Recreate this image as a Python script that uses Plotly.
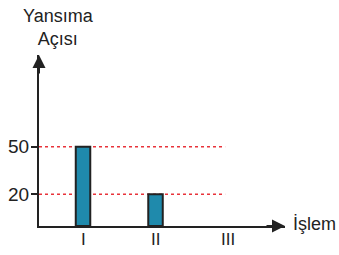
import plotly.graph_objects as go

categories = ["I", "II", "III"]
values = [50, 20, 0]
ytick_vals = [20, 50]
ytick_text = ["20", "50"]
y_title = "Yansıma<br>Açısı"
x_title = "İşlem"

FONT = "Liberation Sans"
TXT = "#222222"

fig = go.Figure()
fig.add_trace(go.Bar(
    x=list(range(len(categories))), y=values, width=0.2,
    marker=dict(color="#1f8aac",
                line=dict(color=TXT, width=[2 if v else 0 for v in values])),
))

XR = [-0.607, 2.786]
YR = [0, 108]

for v in ytick_vals:
    fig.add_shape(type="line", xref="x", yref="y", x0=XR[0], x1=1.96, y0=v, y1=v,
                  line=dict(color="#e8333a", width=1.5, dash="dot"), layer="below")

# tick labels as text (font control)
for v, t in zip(ytick_vals, ytick_text):
    fig.add_annotation(xref="paper", yref="y", x=0, y=v, xanchor="right", yanchor="middle",
                       xshift=-8, yshift=0, text=t, showarrow=False,
                       font=dict(size=19, color=TXT, family=FONT))
for i, c in enumerate(categories):
    fig.add_annotation(xref="x", yref="paper", x=i, y=0, xanchor="center", yanchor="top",
                       yshift=-2, text=c, showarrow=False,
                       font=dict(size=17, color=TXT, family=FONT))

# arrows
fig.add_annotation(xref="paper", yref="paper", x=0, y=1, ax=0, ay=20,
                   axref="pixel", ayref="pixel", showarrow=True, arrowhead=2,
                   arrowsize=1.3, arrowwidth=2, arrowcolor=TXT, text="", standoff=0)
fig.add_annotation(xref="paper", yref="paper", x=1, y=0, ax=-20, ay=0,
                   axref="pixel", ayref="pixel", showarrow=True, arrowhead=2,
                   arrowsize=1.3, arrowwidth=2, arrowcolor=TXT, text="", standoff=0)

fig.add_annotation(xref="paper", yref="paper", x=0.08, y=1, xanchor="center", yanchor="bottom",
                   yshift=4, text=y_title, showarrow=False, align="center",
                   font=dict(size=18, color=TXT, family=FONT))
fig.add_annotation(xref="paper", yref="paper", x=1, y=0, xanchor="left", yanchor="middle",
                   xshift=6, yshift=2, text=x_title, showarrow=False,
                   font=dict(size=18, color=TXT, family=FONT))

fig.update_layout(
    width=339, height=255, margin=dict(l=39, r=54, t=55, b=29),
    plot_bgcolor="white", paper_bgcolor="white", showlegend=False,
    font=dict(family=FONT, color=TXT),
    xaxis=dict(range=XR, tickvals=list(range(len(categories))), showticklabels=False,
               showline=True, linecolor=TXT, linewidth=2, showgrid=False,
               zeroline=False, ticks="", automargin=False),
    yaxis=dict(range=YR, tickvals=ytick_vals, showticklabels=False,
               showline=True, linecolor=TXT, linewidth=2, showgrid=False,
               zeroline=False, ticks="outside", ticklen=6, tickwidth=1.5, automargin=False,
               tickcolor=TXT),
)

fig.write_html("out.html")
